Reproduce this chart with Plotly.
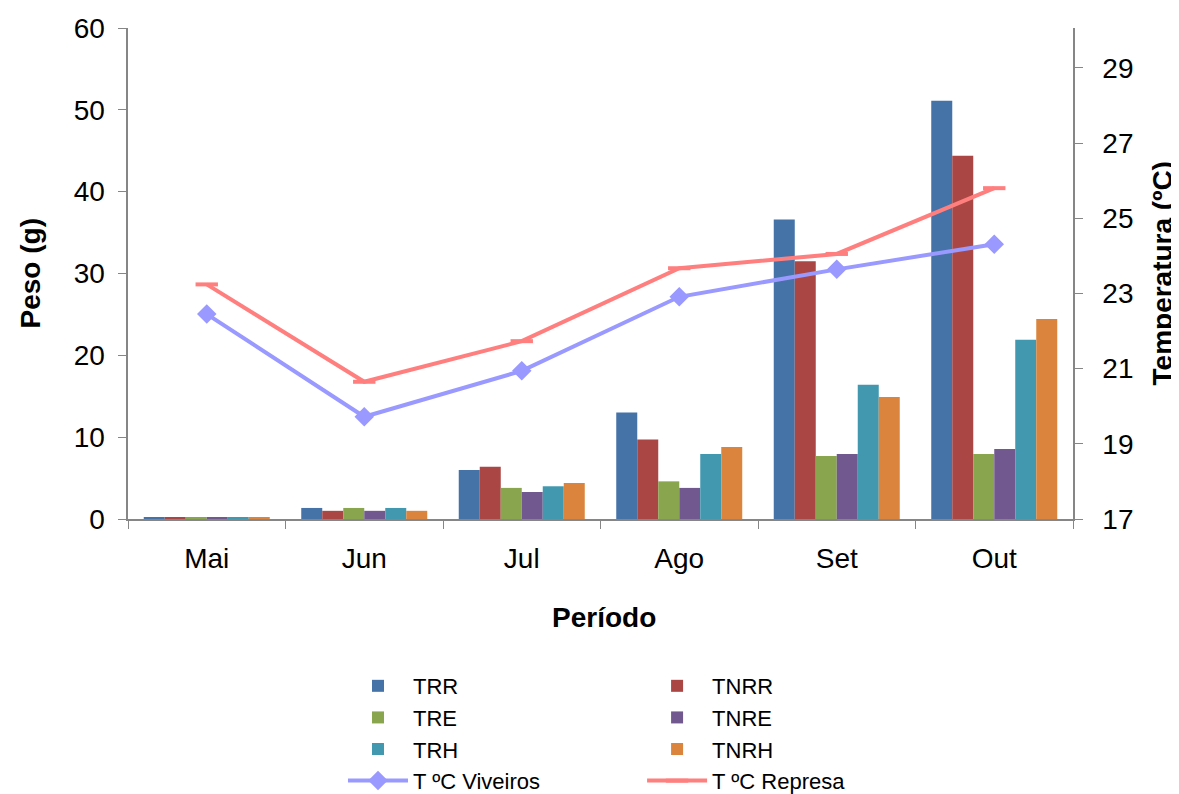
import plotly.graph_objects as go

months = ["Mai", "Jun", "Jul", "Ago", "Set", "Out"]

TRR = [0.2, 1.35, 6.0, 13.0, 36.6, 51.1]
TNRR = [0.2, 1.0, 6.4, 9.7, 31.5, 44.4]
TRE = [0.2, 1.35, 3.8, 4.6, 7.7, 7.95]
TNRE = [0.2, 1.0, 3.3, 3.8, 7.95, 8.55]
TRH = [0.2, 1.35, 4.0, 7.95, 16.4, 21.9]
TNRH = [0.2, 1.0, 4.4, 8.8, 14.9, 24.45]

temp_viveiros = [22.45, 19.72, 20.94, 22.91, 23.64, 24.31]
temp_represa = [23.24, 20.65, 21.73, 23.67, 24.05, 25.8]

bar_series = [
    ("TRR", TRR, "#4572A7", "legend"),
    ("TNRR", TNRR, "#AA4643", "legend2"),
    ("TRE", TRE, "#89A54E", "legend"),
    ("TNRE", TNRE, "#71588F", "legend2"),
    ("TRH", TRH, "#4198AF", "legend"),
    ("TNRH", TNRH, "#DB843D", "legend2"),
]

FONT = "Liberation Sans, Arial, sans-serif"
FS = 28
NB = "\u00a0"

fig = go.Figure()
for name, vals, color, lg in bar_series:
    fig.add_trace(go.Bar(x=months, y=vals, name=name, marker=dict(color=color, line=dict(width=0)),
                         legend=lg))

fig.add_trace(go.Scatter(x=months, y=temp_viveiros, name="T ºC Viveiros", yaxis="y2",
                         mode="lines+markers", legend="legend",
                         line=dict(color="#9999FF", width=4),
                         marker=dict(symbol="diamond", size=15, color="#9999FF")))
fig.add_trace(go.Scatter(x=months, y=temp_represa, name="T ºC Represa", yaxis="y2",
                         mode="lines+markers", legend="legend2",
                         line=dict(color="#FF7F7F", width=4),
                         marker=dict(symbol="line-ew", size=16, color="#FF7F7F",
                                     line=dict(color="#FF7F7F", width=4))))

axis_line = "#868686"
fig.update_layout(
    width=1171, height=786,
    margin=dict(l=120, r=106, t=20, b=275, autoexpand=False),
    paper_bgcolor="white", plot_bgcolor="white",
    font=dict(family=FONT, size=FS, color="black"),
    barmode="group", bargap=0.2, bargroupgap=0,
    showlegend=True,
    xaxis=dict(
        type="category", tickson="boundaries", ticks="outside", ticklen=8,
        tickcolor=axis_line, showline=True, linecolor=axis_line, linewidth=1.5,
        showgrid=False, tickfont=dict(size=FS), tickangle=0, automargin=False,
        ticklabelstandoff=14,
    ),
    yaxis=dict(
        range=[0, 60], dtick=10, ticks="outside", ticklen=8, tickcolor=axis_line,
        showline=True, linecolor=axis_line, linewidth=1.5, showgrid=False, zeroline=False,
        tickfont=dict(size=FS), ticksuffix=NB, automargin=False,
    ),
    yaxis2=dict(
        overlaying="y", side="right", range=[17, 30.06], tickvals=[17, 19, 21, 23, 25, 27, 29],
        ticks="outside", ticklen=8, tickcolor=axis_line,
        showline=True, linecolor=axis_line, linewidth=1.5, showgrid=False, zeroline=False,
        tickfont=dict(size=FS), automargin=False, ticklabelstandoff=14,
    ),
    legend=dict(x=0.2275, y=-0.2974, xanchor="left", yanchor="top",
                orientation="v", font=dict(size=22), itemwidth=60, tracegroupgap=0,
                bgcolor="rgba(0,0,0,0)"),
    legend2=dict(x=0.544, y=-0.2974, xanchor="left", yanchor="top",
                 orientation="v", font=dict(size=22), itemwidth=60, tracegroupgap=0,
                 bgcolor="rgba(0,0,0,0)"),
    annotations=[
        dict(text="<b>Peso (g)</b>", xref="paper", yref="paper", x=-0.1037, y=0.5,
             xanchor="center", yanchor="middle",
             textangle=-90, showarrow=False, font=dict(size=FS)),
        dict(text="<b>Temperatura (ºC)</b>", xref="paper", yref="paper", x=1.0952, y=0.5,
             xanchor="center", yanchor="middle",
             textangle=-90, showarrow=False, font=dict(size=FS)),
        dict(text="<b>Período</b>", xref="paper", yref="paper", x=0.5037, y=-0.1996,
             xanchor="center", yanchor="middle",
             showarrow=False, font=dict(size=FS)),
    ],
)

fig.write_html("out.html")
